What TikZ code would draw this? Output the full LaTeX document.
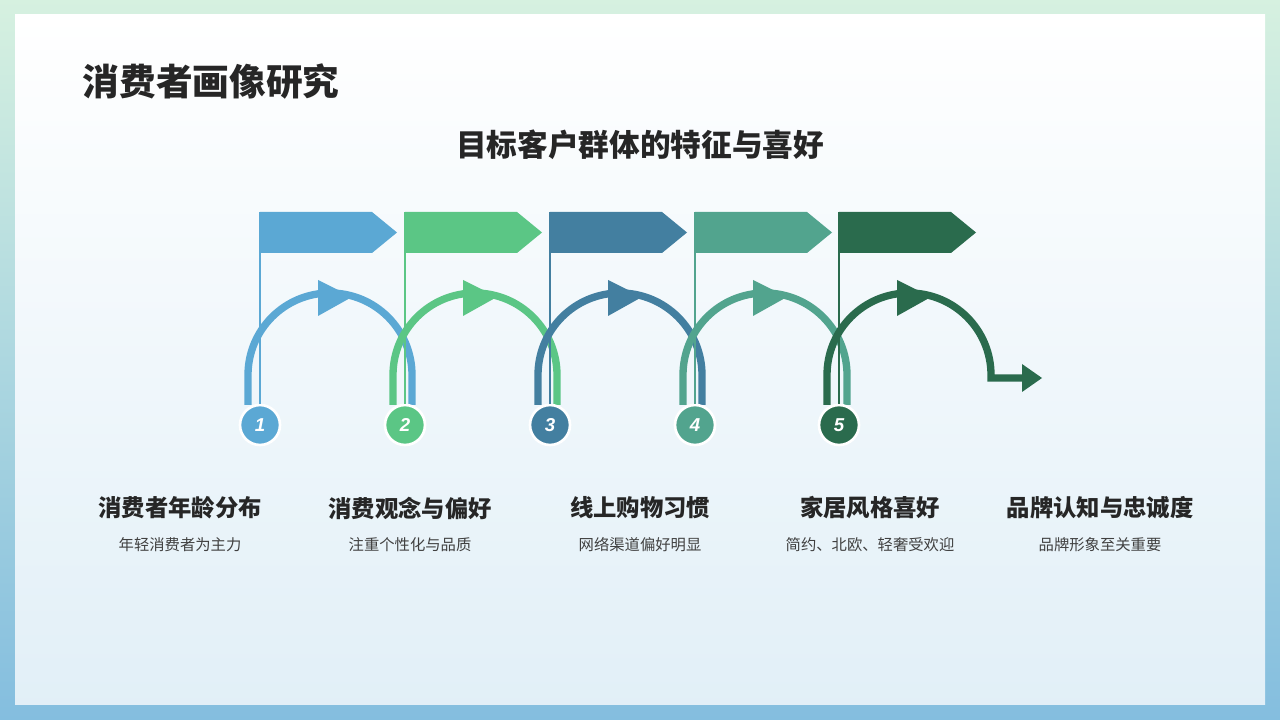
\documentclass[tikz,border=0pt]{standalone}
\usepackage{fontspec}
\setmainfont{Noto Sans CJK SC}
\newfontfamily\numfont{Liberation Sans}
\usetikzlibrary{calc}
\definecolor{cA}{HTML}{5BA8D4}
\definecolor{cB}{HTML}{5BC685}
\definecolor{cC}{HTML}{437FA0}
\definecolor{cD}{HTML}{52A48E}
\definecolor{cE}{HTML}{2A6B4D}
\definecolor{ink}{HTML}{262626}
\definecolor{soft}{HTML}{404040}
\begin{document}
\begin{tikzpicture}[
x=0.75pt,y=0.75pt,
font=\bfseries,
stepdot/.style={circle,draw=white,line width=2pt,inner sep=0pt,minimum size=30pt,
  text=white,font=\numfont\bfseries\itshape\fontsize{14}{14}\selectfont},
headline/.style={font=\bfseries\fontsize{17.5}{20}\selectfont,text=ink},
subline/.style={font=\fontsize{11.5}{13}\selectfont,text=soft},
arc/.style={line width=5.5pt},
pole/.style={line width=1.2pt}
]
% background frame and panel
\shade[left color=cB!25,right color=cA!75,shading angle=0] (0,0) rectangle (1280,720);
\shade[top color=white,bottom color=cA!18] (15,15) rectangle (1265,705);
\useasboundingbox (0,0) rectangle (1280,720);

\node[anchor=west,font=\bfseries\fontsize{27.5}{30}\selectfont,text=ink] (title) at (78,638) {消费者画像研究};
\node[font=\bfseries\fontsize{23}{26}\selectfont,text=ink] (subtitle) at (640,575) {目标客户群体的特征与喜好};

% steps
\foreach \i/\c/\col in {1/260/cA,2/405/cB,3/550/cC,4/695/cD,5/839/cE}{
  \ifnum\i<5
    \draw[arc,\col] (\c-12,315) -- (\c-12,345) arc(180:0:82) -- (\c+152,315);
  \else
    \draw[arc,\col] (\c-12,315) -- (\c-12,345) arc(180:0:82) -- (\c+152,342) coordinate (tail) -- (1025,342);
    \fill[\col] (1022,356) -- (1042,342) -- (1022,328) -- cycle;
  \fi
  \fill[\col] (\c+58,440) -- (\c+92,423) -- (\c+58,404) -- cycle;
  \fill[\col] (\c,467) -- (\c,508) -- (\c+112,508) -- (\c+137,487.5) -- (\c+112,467) -- cycle;
  \node[stepdot,fill=\col] (n\i) at (\c,295) {\i};
  \draw[pole,\col] (n\i.north) -- (\c,508);
}

\node[headline] (h1) at (180,212) {消费者年龄分布};
\node[subline] (s1) at (180,175) {年轻消费者为主力};
\node[headline] (h2) at (410,212) {消费观念与偏好};
\node[subline] (s2) at (410,175) {注重个性化与品质};
\node[headline] (h3) at (640,212) {线上购物习惯};
\node[subline] (s3) at (640,175) {网络渠道偏好明显};
\node[headline] (h4) at (870,212) {家居风格喜好};
\node[subline] (s4) at (870,175) {简约、北欧、轻奢受欢迎};
\node[headline] (h5) at (1100,212) {品牌认知与忠诚度};
\node[subline] (s5) at (1100,175) {品牌形象至关重要};
\end{tikzpicture}
\end{document}
